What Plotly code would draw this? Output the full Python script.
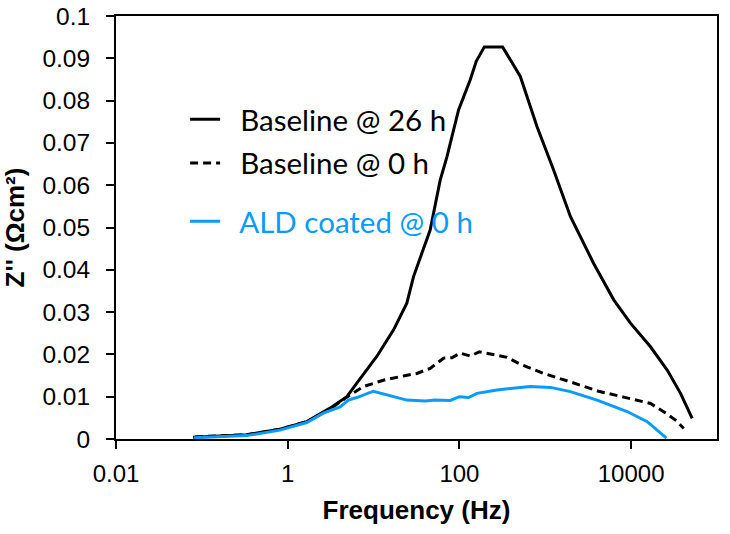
import plotly.graph_objects as go

# Baseline @ 26 h
freq_26h = [0.079, 0.333, 0.81, 1.67, 3.11, 4.88, 6.38, 10.9, 17.1, 24.4, 29.2, 38.1, 45.6,
            59.7, 71.5, 97.7, 134, 157, 195, 318, 512, 802, 1250, 1960, 3660, 6270, 9820,
            16800, 26300, 37600, 51400]
z_26h = [0.0004, 0.0010, 0.0023, 0.0041, 0.0073, 0.0100, 0.0132, 0.0195, 0.0258, 0.0321,
         0.0384, 0.0447, 0.0494, 0.0612, 0.0667, 0.0778, 0.0850, 0.0893, 0.0927, 0.0927,
         0.0857, 0.0738, 0.0636, 0.0526, 0.0415, 0.0329, 0.0274, 0.0218, 0.0163, 0.0108, 0.0049]

# Baseline @ 0 h
freq_0h = [0.083, 0.333, 0.81, 1.67, 3.11, 4.88, 7.62, 13.0, 22.3, 31.9, 45.6, 65.3, 81.8,
           102, 134, 170, 261, 358, 512, 957, 1960, 4160, 8200, 16800, 26300, 33700, 41000]
z_0h = [0.0005, 0.0010, 0.0023, 0.0041, 0.0071, 0.0099, 0.0124, 0.0139, 0.0149, 0.0155,
        0.0167, 0.0191, 0.0192, 0.0203, 0.0196, 0.0206, 0.0199, 0.0193, 0.0177, 0.0155,
        0.0135, 0.0113, 0.0099, 0.0084, 0.0059, 0.0043, 0.0025]

# ALD coated @ 0 h
freq_ald = [0.081, 0.333, 0.81, 1.67, 2.60, 4.07, 5.09, 6.38, 9.95, 15.6, 24.4, 39.9, 52.2,
            78.2, 100, 128, 160, 274, 670, 1150, 1960, 4010, 8980, 15400, 20100, 25800]
z_ald = [0.0003, 0.0008, 0.0021, 0.0039, 0.0061, 0.0076, 0.0092, 0.0098, 0.0113, 0.0102,
         0.0092, 0.0090, 0.0092, 0.0091, 0.0100, 0.0098, 0.0108, 0.0116, 0.0124, 0.0122,
         0.0112, 0.0092, 0.0065, 0.0041, 0.0021, 0.0002]

x_tickvals = [0.01, 1, 100, 10000]
x_ticktext = ["0.01", "1", "100", "10000"]
y_tickvals = [0, 0.01, 0.02, 0.03, 0.04, 0.05, 0.06, 0.07, 0.08, 0.09, 0.1]
y_ticktext = ["0", "0.01", "0.02", "0.03", "0.04", "0.05", "0.06", "0.07", "0.08", "0.09", "0.1"]

BLUE = "#0A9BFA"
PAD = "\u00a0\u00a0"

fig = go.Figure()
fig.add_trace(go.Scatter(x=freq_26h, y=z_26h, mode="lines", name=PAD + "Baseline @ 26 h",
                         line=dict(color="black", width=3), legend="legend"))
fig.add_trace(go.Scatter(x=freq_0h, y=z_0h, mode="lines", name=PAD + "Baseline @ 0 h",
                         line=dict(color="black", width=3, dash="8px,5px"), legend="legend2"))
fig.add_trace(go.Scatter(x=freq_ald, y=z_ald, mode="lines", name=PAD + "ALD coated @ 0 h",
                         line=dict(color=BLUE, width=3), legend="legend3"))

leg_common = dict(xanchor="left", yanchor="middle", bgcolor="rgba(0,0,0,0)", borderwidth=0)
lfont = dict(family="Lato, Open Sans, sans-serif", size=29.5)

fig.update_layout(
    width=730, height=534,
    margin=dict(l=116, r=13, t=16, b=95, autoexpand=False),
    showlegend=True,
    paper_bgcolor="white", plot_bgcolor="white",
    font=dict(family="Liberation Sans, Arial, sans-serif", color="black"),
    legend=dict(x=0.115, y=0.755, font=dict(lfont, color="black"), **leg_common),
    legend2=dict(x=0.115, y=0.652, font=dict(lfont, color="black"), **leg_common),
    legend3=dict(x=0.115, y=0.514, font=dict(lfont, color=BLUE), **leg_common),
    xaxis=dict(type="log", range=[-2, 5], tickvals=x_tickvals, ticktext=x_ticktext,
               automargin=False,
               showgrid=False, zeroline=False, showline=True, mirror=True,
               linecolor="black", linewidth=2, ticks="outside", ticklen=8, tickwidth=1.5,
               tickcolor="black", tickfont=dict(size=24), ticklabelstandoff=4,
               title=dict(text="<b>Frequency (Hz)</b>", font=dict(size=26), standoff=15)),
    yaxis=dict(range=[0, 0.1], tickvals=y_tickvals, ticktext=y_ticktext,
               automargin=False,
               showgrid=False, zeroline=False, showline=True, mirror=True,
               linecolor="black", linewidth=2, ticks="outside", ticklen=8, tickwidth=1.5,
               tickcolor="black", tickfont=dict(size=24.5), ticklabelstandoff=11,
               title=dict(text="<b>Z'' (Ωcm²)</b>", font=dict(size=26), standoff=10)),
)

fig.write_html("out.html")
